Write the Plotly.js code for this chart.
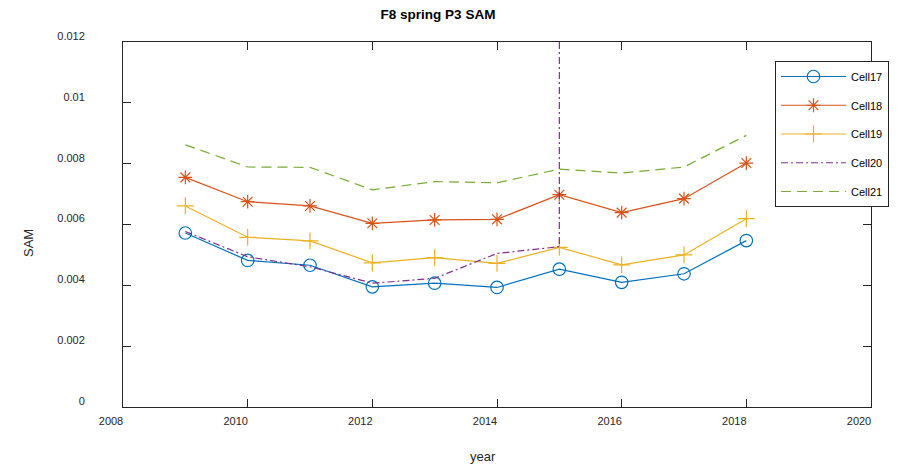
<!DOCTYPE html>
<html>
<head>
<meta charset="utf-8">
<script src="https://cdn.plot.ly/plotly-3.0.1.min.js"></script>
<style>html,body{margin:0;padding:0;background:#fff;}#chart{width:899px;height:466px;}</style>
</head>
<body>
<div id="chart"></div>
<script>
const years = [2009, 2010, 2011, 2012, 2013, 2014, 2015, 2016, 2017, 2018];
const cell17 = [0.00572, 0.00482, 0.00466, 0.00395, 0.00407, 0.00393, 0.00453, 0.00410, 0.00438, 0.00547];
const cell18 = [0.00755, 0.00675, 0.00661, 0.00604, 0.00615, 0.00617, 0.00698, 0.00639, 0.00685, 0.00802];
const cell19 = [0.00661, 0.00558, 0.00546, 0.00474, 0.00491, 0.00472, 0.00525, 0.00467, 0.00500, 0.00619];
const cell20 = [0.00577, 0.00494, 0.00461, 0.00407, 0.00423, 0.00505, 0.00527, 10, null, null];
const cell21 = [0.00862, 0.00789, 0.00788, 0.00714, 0.00741, 0.00737, 0.00782, 0.00769, 0.00789, 0.00893];
const seriesNames = ['Cell17', 'Cell18', 'Cell19', 'Cell20', 'Cell21'];
const xTickVals = [2008, 2010, 2012, 2014, 2016, 2018, 2020];
const xTickText = ['2008', '2010', '2012', '2014', '2016', '2018', '2020'];
const yTickVals = [0, 0.002, 0.004, 0.006, 0.008, 0.01, 0.012];
const yTickText = ['0', '0.002', '0.004', '0.006', '0.008', '0.01', '0.012'];

const FONT = 'Liberation Sans, Arial, Helvetica, sans-serif';
const AX = '#262626';

const traces = [
  {x: years, y: cell17, name: seriesNames[0], legendgroup: 'g1', mode: 'lines+markers',
   line: {color: '#0072BD', width: 1.2},
   marker: {symbol: 'circle-open', size: 12.5, color: '#0072BD', line: {width: 1.2, color: '#0072BD'}}},
  {x: years, y: cell18, name: seriesNames[1], legendgroup: 'g2', mode: 'lines+markers',
   line: {color: '#D95319', width: 1.2},
   marker: {symbol: 'asterisk-open', size: 11.5, color: '#D95319', line: {width: 1.2, color: '#D95319'}}},
  {x: years, y: cell19, name: seriesNames[2], legendgroup: 'g3', mode: 'lines+markers',
   line: {color: '#EDB120', width: 1.2},
   marker: {symbol: 'cross-thin-open', size: 12, color: '#EDB120', line: {width: 1.2, color: '#EDB120'}}},
  {x: years, y: cell20, name: seriesNames[3], legendgroup: 'g4', mode: 'lines',
   line: {color: '#7E2F8E', width: 1.2, dash: '7px,3px,2px,3px'}},
  {x: years, y: cell21, name: seriesNames[4], legendgroup: 'g5', mode: 'lines',
   line: {color: '#77AC30', width: 1.2, dash: '10px,6px'}}
];

const layout = {
  width: 899, height: 466,
  margin: {l: 123, r: 28, t: 42, b: 59, pad: 0, autoexpand: false},
  paper_bgcolor: '#ffffff', plot_bgcolor: '#ffffff',
  font: {family: FONT, size: 11, color: AX},
  title: {text: '<b>F8 spring P3 SAM</b>', font: {family: FONT, size: 13.5, color: '#000'},
          xref: 'container', x: 438/899, xanchor: 'center', yref: 'container', y: 1 - 14/466, yanchor: 'middle'},
  xaxis: {range: [2008, 2020], tickmode: 'array', tickvals: xTickVals, ticktext: xTickText,
          showgrid: false, zeroline: false, showline: true, linecolor: AX, linewidth: 1,
          mirror: 'ticks', ticks: 'inside', ticklen: 8, tickcolor: AX, tickwidth: 1,
          ticklabelshift: -12, ticklabelstandoff: 4, automargin: false,
          tickfont: {family: FONT, size: 11, color: AX}},
  yaxis: {range: [0, 0.012], tickmode: 'array', tickvals: yTickVals, ticktext: yTickText,
          showgrid: false, zeroline: false, showline: true, linecolor: AX, linewidth: 1,
          mirror: 'ticks', ticks: 'inside', ticklen: 8, tickcolor: AX, tickwidth: 1,
          ticklabelshift: -6, ticklabelstandoff: 35, automargin: false,
          tickfont: {family: FONT, size: 11, color: AX}},
  showlegend: true,
  legend: {xref: 'container', yref: 'container', x: 775/899, xanchor: 'left', y: 1 - 61/466, yanchor: 'top',
           bgcolor: '#ffffff', bordercolor: AX, borderwidth: 1,
           font: {family: FONT, size: 11, color: '#000'},
           itemwidth: 65, tracegroupgap: 9.75, traceorder: 'grouped'},
  annotations: [
    {text: 'year', xref: 'paper', yref: 'paper', x: (483-123)/748, y: -(456-407)/365, xanchor: 'center', yanchor: 'middle',
     showarrow: false, font: {family: FONT, size: 13, color: AX}},
    {text: 'SAM', xref: 'paper', yref: 'paper', x: -(123-28)/748, y: (407-243)/365, xanchor: 'center', yanchor: 'middle',
     textangle: -90, showarrow: false, font: {family: FONT, size: 13, color: AX}}
  ]
};

Plotly.newPlot('chart', traces, layout, {displayModeBar: false, staticPlot: true});
</script>
</body>
</html>
